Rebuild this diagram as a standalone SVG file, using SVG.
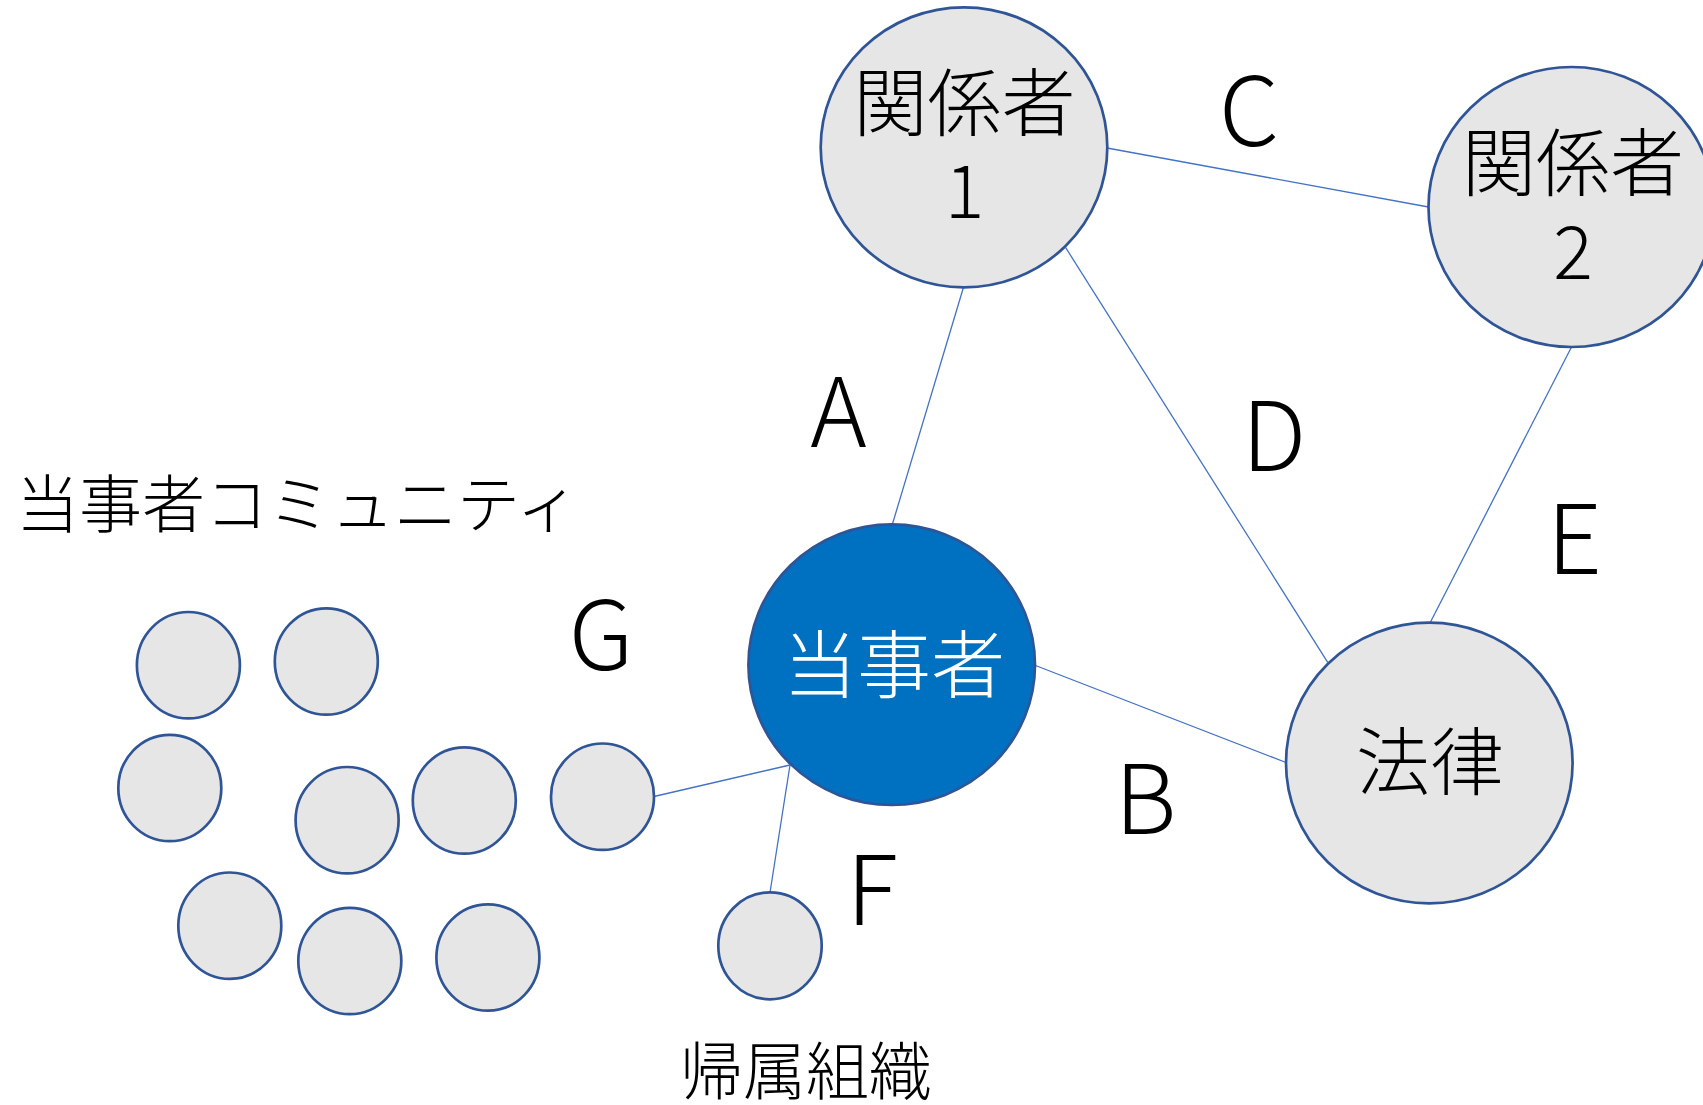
<svg xmlns="http://www.w3.org/2000/svg" width="1703" height="1105" viewBox="0 0 1703 1105">
<style>
.n{fill:#E6E6E6;stroke:#2F5597;stroke-width:2.7}
.p{fill:#0070C0;stroke:#2F5597;stroke-width:2.7}
.c{stroke:#4472C4;stroke-width:1.3;fill:none}
.t{font-family:"Noto Sans CJK JP","Noto Sans",sans-serif;fill:#000;font-weight:300}
.big{font-size:74px;text-anchor:middle}
.lbl{font-size:96px;text-anchor:middle}
.cap{font-size:63px}
</style>
<rect width="1703" height="1105" fill="#FFFFFF"/>
<g id="connectors">
<line class="c" x1="892.3" y1="524.5" x2="963.5" y2="287.3"/>
<line class="c" x1="1035.5" y1="665.5" x2="1286" y2="762.5"/>
<line class="c" x1="1107" y1="148" x2="1428.5" y2="207"/>
<line class="c" x1="1065.7" y1="247.7" x2="1327.7" y2="662.3"/>
<line class="c" x1="1571.5" y1="347" x2="1430" y2="623"/>
<line class="c" x1="790" y1="765" x2="770" y2="892.5"/>
<line class="c" x1="790" y1="765" x2="654" y2="796.5"/>
</g>
<g id="edge-labels">
<text class="t lbl" x="838.5" y="447">A</text>
<text class="t lbl" x="1145.5" y="834">B</text>
<text class="t lbl" x="1249" y="146">C</text>
<text class="t lbl" x="1274" y="471">D</text>
<text class="t lbl" x="1574.5" y="574">E</text>
<text class="t lbl" x="872" y="925">F</text>
<text class="t lbl" x="601" y="670">G</text>
</g>
<g id="node-kankeisha1">
<ellipse class="n" cx="964" cy="147.3" rx="143.3" ry="140"/>
<text class="t big" x="964.5" y="130">関係者</text>
<text class="t big" x="964.5" y="218">1</text>
</g>
<g id="node-kankeisha2">
<ellipse class="n" cx="1571.5" cy="207" rx="143" ry="140"/>
<text class="t big" x="1573" y="190">関係者</text>
<text class="t big" x="1573" y="279">2</text>
</g>
<g id="node-tojisha">
<ellipse class="p" cx="891.7" cy="664.7" rx="143.3" ry="140.3"/>
<text class="t big" x="894" y="692" style="fill:#FFFFFF">当事者</text>
</g>
<g id="node-horitsu">
<ellipse class="n" cx="1429.3" cy="763" rx="143.3" ry="140.3"/>
<text class="t big" x="1430" y="789">法律</text>
</g>
<g id="node-kizoku">
<ellipse class="n" cx="770" cy="945.8" rx="51.7" ry="53.5"/>
<text class="t cap" x="680" y="1094">帰属組織</text>
</g>
<g id="node-community">
<text class="t cap" x="16" y="527">当事者コミュニティ</text>
<ellipse class="n" cx="188.4" cy="665.2" rx="51.5" ry="53.2"/>
<ellipse class="n" cx="326.3" cy="661.5" rx="51.5" ry="53.2"/>
<ellipse class="n" cx="169.8" cy="788" rx="51.5" ry="53.2"/>
<ellipse class="n" cx="347.1" cy="820.2" rx="51.5" ry="53.2"/>
<ellipse class="n" cx="464.3" cy="800.5" rx="51.5" ry="53.2"/>
<ellipse class="n" cx="602.5" cy="796.7" rx="51.5" ry="53.2"/>
<ellipse class="n" cx="229.8" cy="925.7" rx="51.5" ry="53.2"/>
<ellipse class="n" cx="349.8" cy="961" rx="51.5" ry="53.2"/>
<ellipse class="n" cx="487.9" cy="957.5" rx="51.5" ry="53.2"/>
</g>
</svg>
